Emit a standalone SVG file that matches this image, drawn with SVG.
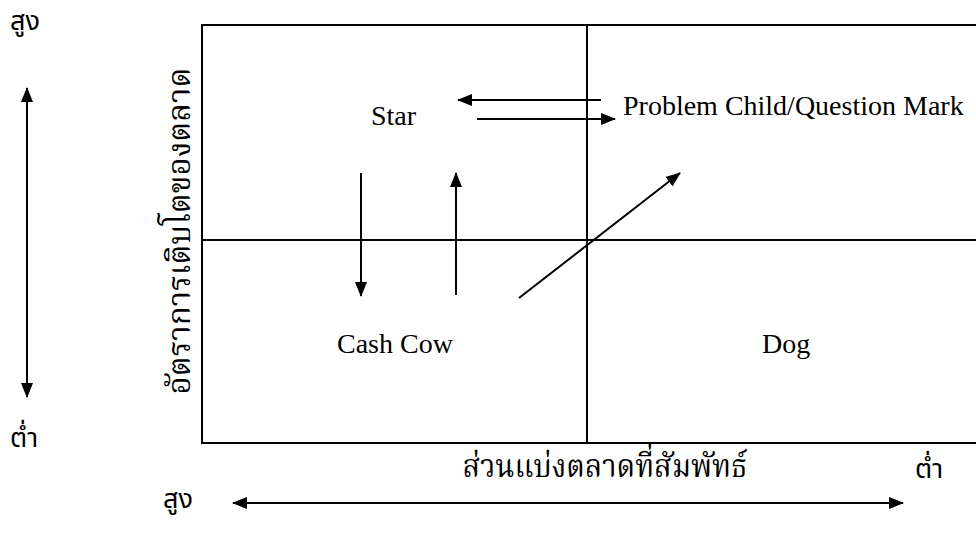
<svg xmlns="http://www.w3.org/2000/svg" width="976" height="534" viewBox="0 0 976 534">
<style>
.ln{stroke:#000;stroke-width:2;fill:none}
.ar{stroke:#000;stroke-width:2;fill:none;marker-end:url(#ah)}
.en{font-family:"Liberation Serif","Times New Roman",serif;font-size:28px;fill:#000}
.th{font-family:"Noto Sans Thai","Noto Sans","DejaVu Sans",sans-serif;font-size:27px;fill:#000}
.thn{font-family:"Noto Serif Thai","Noto Sans Thai","Noto Sans",sans-serif;font-size:32px;fill:#000}
</style>
<defs>
<marker id="ah" viewBox="0 0 15 12" refX="14" refY="6" markerWidth="15" markerHeight="12" markerUnits="userSpaceOnUse" orient="auto-start-reverse">
<path d="M0,0 L15,6 L0,12 Z" fill="#000"/>
</marker>
</defs>
<rect width="976" height="534" fill="#fff"/>
<g id="matrix">
<path class="ln" d="M976,25 H202 V443 H976"/>
<line class="ln" x1="587" y1="25" x2="587" y2="443"/>
<line class="ln" x1="202" y1="240" x2="976" y2="240"/>
</g>
<g id="star"><text class="en" x="371" y="125">Star</text></g>
<g id="problem-child"><text class="en" x="623" y="115">Problem Child/Question Mark</text></g>
<g id="cash-cow"><text class="en" x="337" y="353">Cash Cow</text></g>
<g id="dog"><text class="en" x="762" y="353">Dog</text></g>
<g id="axis-labels">
<text class="th" x="10" y="30">สูง</text>
<text class="th" x="10" y="447">ต่ำ</text>
<text class="th" x="163" y="508">สูง</text>
<text class="th" x="915" y="478">ต่ำ</text>
<text class="thn" x="605" y="477" text-anchor="middle" textLength="285" lengthAdjust="spacingAndGlyphs">ส่วนแบ่งตลาดที่สัมพัทธ์</text>
<text class="thn" transform="translate(190,231) rotate(-90)" x="0" y="0" text-anchor="middle" textLength="327" lengthAdjust="spacingAndGlyphs">อัตราการเติบโตของตลาด</text>
</g>
<g id="connectors">
<line class="ar" x1="27" y1="240" x2="27" y2="88" />
<line class="ar" x1="27" y1="240" x2="27" y2="397" />
<line class="ar" x1="568" y1="503" x2="233" y2="503" />
<line class="ar" x1="568" y1="503" x2="903" y2="503" />
<line class="ar" x1="601" y1="100" x2="458" y2="100"/>
<line class="ar" x1="477" y1="119" x2="615" y2="119"/>
<line class="ar" x1="361" y1="173" x2="361" y2="296"/>
<line class="ar" x1="456" y1="295" x2="456" y2="173"/>
<line class="ar" x1="519" y1="298" x2="680" y2="173"/>
</g>
</svg>
